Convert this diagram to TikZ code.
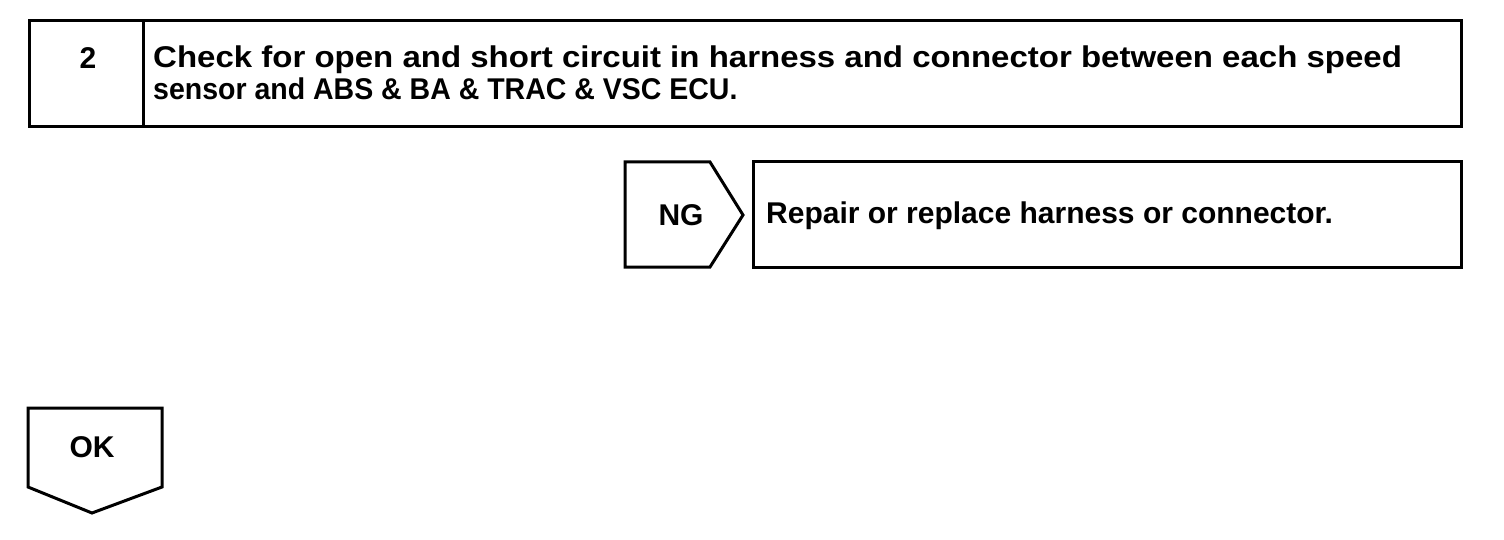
\documentclass[tikz,border=0pt]{standalone}
\usepackage{fontspec}
\setmainfont{Liberation Sans}
\begin{document}
\begin{tikzpicture}[x=1pt,y=-1pt,
  frame/.style={draw=black,line width=3pt,line join=miter},
  txt/.style={font=\fontsize{30}{35}\selectfont\bfseries,inner sep=0pt,text=black}]
\useasboundingbox (0,0) rectangle (1504,540);
% top step box
\draw[frame] (29,21) rectangle (1461,127);
\draw[frame] (143,21) -- (143,127);
\node[txt] (num) at (88,58) {2};
\node[txt,anchor=base west] (title1) at (153,68)
  {\scalebox{1.1}[1]{Check for open and short circuit in harness and connector between each speed}};
\node[txt,anchor=base west] (title2) at (153,100)
  {\scalebox{0.95}[1]{sensor and ABS \& BA \& TRAC \& VSC ECU.}};
% NG pentagon
\draw[frame] (625,162) -- (710,162) -- (743,215) -- (710,267) -- (625,267) -- cycle;
\node[txt] (ng) at (681,215) {NG};
% repair box
\draw[frame] (753,162) rectangle (1461,267);
\node[txt,anchor=base west] (rep) at (766,223) {Repair or replace harness or connector.};
% OK arrow
\draw[frame] (28,408) -- (162,408) -- (162,487) -- (92,513) -- (28,487) -- cycle;
\node[txt] (ok) at (92,447) {OK};
\end{tikzpicture}
\end{document}
